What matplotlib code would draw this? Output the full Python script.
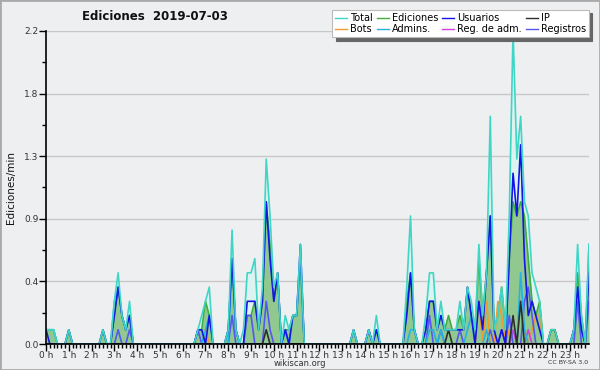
import matplotlib
matplotlib.use('Agg')
import matplotlib.pyplot as plt
from matplotlib.lines import Line2D
from matplotlib.patches import Rectangle
import numpy as np

# 10-minute bins (144 per day), values in edits/min
total = [
    0.1, 0.1, 0.1, 0, 0, 0,   0.1, 0, 0, 0, 0, 0,   0, 0, 0, 0.1, 0, 0,   0.3, 0.5, 0.2, 0.1, 0.3, 0,
    0, 0, 0, 0, 0, 0,   0, 0, 0, 0, 0, 0,   0, 0, 0, 0, 0.1, 0.2,   0.3, 0.4, 0, 0, 0, 0,
    0.1, 0.8, 0.1, 0, 0.1, 0.5,   0.5, 0.6, 0.1, 0.4, 1.3, 0.9,   0.4, 0.5, 0, 0.2, 0.1, 0.2,   0.2, 0.7, 0, 0, 0, 0,
    0, 0, 0, 0, 0, 0,   0, 0, 0, 0.1, 0, 0,   0, 0.1, 0, 0.2, 0, 0,   0, 0, 0, 0, 0, 0.4,
    0.9, 0.1, 0, 0, 0.2, 0.5,   0.5, 0.1, 0.3, 0.1, 0.1, 0.1,   0.1, 0.3, 0.1, 0.4, 0.3, 0.1,   0.7, 0.2, 0.5, 1.6, 0.1, 0.2,
    0.4, 0.1, 0.9, 2.2, 1.3, 1.6,   1.0, 0.9, 0.5, 0.4, 0.3, 0,   0, 0.1, 0.1, 0, 0, 0,   0, 0.1, 0.7, 0.2, 0, 0.7,
]
ediciones = [
    0.1, 0.1, 0.1, 0, 0, 0,   0.1, 0, 0, 0, 0, 0,   0, 0, 0, 0.1, 0, 0,   0.2, 0.4, 0.2, 0.1, 0.2, 0,
    0, 0, 0, 0, 0, 0,   0, 0, 0, 0, 0, 0,   0, 0, 0, 0, 0.1, 0.1,   0.3, 0.2, 0, 0, 0, 0,
    0.1, 0.6, 0.1, 0, 0, 0.2,   0.2, 0.3, 0.1, 0.3, 1.0, 0.7,   0.3, 0.5, 0, 0.1, 0.1, 0.2,   0.2, 0.6, 0, 0, 0, 0,
    0, 0, 0, 0, 0, 0,   0, 0, 0, 0.1, 0, 0,   0, 0.1, 0, 0.1, 0, 0,   0, 0, 0, 0, 0, 0.3,
    0.5, 0.1, 0, 0, 0.1, 0.3,   0.3, 0.1, 0.2, 0.1, 0.2, 0.1,   0.1, 0.2, 0.1, 0.4, 0.2, 0.1,   0.6, 0.2, 0.5, 0.9, 0.1, 0.2,
    0.4, 0.1, 0.6, 1.0, 0.9, 1.0,   0.9, 0.6, 0.3, 0.2, 0.3, 0,   0, 0.1, 0.1, 0, 0, 0,   0, 0.1, 0.5, 0.2, 0, 0.6,
]
usuarios = [
    0.1, 0, 0, 0, 0, 0,   0.1, 0, 0, 0, 0, 0,   0, 0, 0, 0.1, 0, 0,   0.2, 0.4, 0.2, 0.1, 0.2, 0,
    0, 0, 0, 0, 0, 0,   0, 0, 0, 0, 0, 0,   0, 0, 0, 0, 0.1, 0.1,   0, 0.2, 0, 0, 0, 0,
    0.1, 0.6, 0.1, 0, 0, 0.3,   0.3, 0.3, 0.1, 0.3, 1.0, 0.6,   0.3, 0.5, 0, 0.1, 0, 0.2,   0.2, 0.7, 0, 0, 0, 0,
    0, 0, 0, 0, 0, 0,   0, 0, 0, 0.1, 0, 0,   0, 0.1, 0, 0.1, 0, 0,   0, 0, 0, 0, 0, 0.2,
    0.5, 0.1, 0, 0, 0.1, 0.3,   0.3, 0.1, 0.2, 0.1, 0.1, 0.1,   0.1, 0.1, 0.1, 0.4, 0.2, 0,   0.3, 0.1, 0.5, 0.9, 0.1, 0,
    0.1, 0, 0.6, 1.2, 0.9, 1.4,   0.6, 0.2, 0.3, 0.2, 0.1, 0,   0, 0, 0, 0, 0, 0,   0, 0.1, 0.4, 0.1, 0, 0.5,
]
ip = [
    0, 0, 0, 0, 0, 0,   0, 0, 0, 0, 0, 0,   0, 0, 0, 0, 0, 0,   0, 0, 0, 0, 0, 0,
    0, 0, 0, 0, 0, 0,   0, 0, 0, 0, 0, 0,   0, 0, 0, 0, 0, 0,   0, 0, 0, 0, 0, 0,
    0, 0, 0, 0, 0, 0,   0, 0, 0, 0, 0.1, 0,   0, 0, 0, 0, 0, 0,   0, 0, 0, 0, 0, 0,
    0, 0, 0, 0, 0, 0,   0, 0, 0, 0, 0, 0,   0, 0, 0, 0, 0, 0,   0, 0, 0, 0, 0, 0,
    0, 0, 0, 0, 0, 0,   0, 0, 0, 0, 0.1, 0,   0, 0, 0, 0, 0, 0,   0, 0, 0, 0, 0, 0,
    0, 0, 0, 0.2, 0, 0.3,   0, 0, 0, 0, 0, 0,   0, 0.1, 0.1, 0, 0, 0,   0, 0, 0, 0, 0, 0,
]
bots = [
    0, 0, 0, 0, 0, 0,   0, 0, 0, 0, 0, 0,   0, 0, 0, 0, 0, 0,   0, 0, 0, 0, 0, 0,
    0, 0, 0, 0, 0, 0,   0, 0, 0, 0, 0, 0,   0, 0, 0, 0, 0, 0,   0.1, 0, 0, 0, 0, 0,
    0, 0, 0, 0, 0, 0,   0, 0, 0, 0, 0, 0,   0, 0, 0, 0, 0, 0,   0, 0, 0, 0, 0, 0,
    0, 0, 0, 0, 0, 0,   0, 0, 0, 0, 0, 0,   0, 0, 0, 0, 0, 0,   0, 0, 0, 0, 0, 0,
    0, 0, 0, 0, 0, 0,   0, 0, 0, 0, 0, 0,   0, 0, 0, 0, 0, 0,   0.3, 0, 0.3, 0, 0, 0.3,
    0.2, 0, 0.1, 0, 0, 0,   0, 0, 0.1, 0.2, 0.2, 0,   0, 0, 0, 0, 0, 0,   0, 0, 0, 0, 0, 0,
]
admins = [
    0.1, 0.1, 0.1, 0, 0, 0,   0, 0, 0, 0, 0, 0,   0, 0, 0, 0, 0, 0,   0.3, 0.4, 0.2, 0.1, 0.2, 0,
    0, 0, 0, 0, 0, 0,   0, 0, 0, 0, 0, 0,   0, 0, 0, 0, 0, 0,   0.1, 0.2, 0, 0, 0, 0,
    0, 0.6, 0.1, 0, 0, 0,   0, 0, 0, 0, 0, 0,   0, 0, 0, 0.1, 0, 0.2,   0.2, 0.6, 0, 0, 0, 0,
    0, 0, 0, 0, 0, 0,   0, 0, 0, 0, 0, 0,   0, 0, 0, 0.1, 0, 0,   0, 0, 0, 0, 0, 0,
    0.1, 0.1, 0, 0, 0, 0.1,   0.1, 0, 0.1, 0, 0, 0,   0, 0, 0, 0.1, 0.2, 0,   0, 0, 0.1, 0, 0, 0,
    0, 0, 0, 0, 0, 0.5,   0.1, 0, 0, 0, 0, 0,   0, 0, 0, 0, 0, 0,   0, 0.1, 0.4, 0.1, 0, 0.7,
]
reg_adm = [
    0, 0, 0, 0, 0, 0,   0, 0, 0, 0, 0, 0,   0, 0, 0, 0, 0, 0,   0, 0, 0, 0, 0, 0,
    0, 0, 0, 0, 0, 0,   0, 0, 0, 0, 0, 0,   0, 0, 0, 0, 0, 0,   0, 0, 0, 0, 0, 0,
    0, 0, 0, 0, 0, 0,   0, 0, 0, 0, 0, 0,   0, 0, 0, 0, 0, 0,   0, 0, 0, 0, 0, 0,
    0, 0, 0, 0, 0, 0,   0, 0, 0, 0, 0, 0,   0, 0, 0, 0, 0, 0,   0, 0, 0, 0, 0, 0,
    0, 0, 0, 0, 0, 0,   0, 0, 0, 0, 0, 0,   0, 0, 0, 0, 0, 0,   0, 0, 0, 0, 0, 0,
    0, 0, 0, 0.1, 0, 0,   0, 0.1, 0, 0, 0, 0,   0, 0, 0, 0, 0, 0,   0, 0, 0, 0, 0, 0,
]
registros = [
    0, 0, 0, 0, 0, 0,   0, 0, 0, 0, 0, 0,   0, 0, 0, 0, 0, 0,   0, 0.1, 0, 0, 0.1, 0,
    0, 0, 0, 0, 0, 0,   0, 0, 0, 0, 0, 0,   0, 0, 0, 0, 0.1, 0,   0, 0, 0, 0, 0, 0,
    0, 0.2, 0, 0, 0, 0.2,   0.2, 0, 0, 0, 0.3, 0.1,   0, 0, 0, 0.1, 0, 0,   0, 0, 0, 0, 0, 0,
    0, 0, 0, 0, 0, 0,   0, 0, 0, 0, 0, 0,   0, 0.1, 0, 0, 0, 0,   0, 0, 0, 0, 0, 0,
    0, 0, 0, 0, 0, 0.2,   0, 0, 0.1, 0, 0, 0,   0, 0.1, 0, 0, 0, 0,   0, 0, 0, 0.1, 0, 0,
    0.1, 0, 0.2, 0, 0, 0,   0.3, 0.4, 0.2, 0, 0, 0,   0, 0, 0, 0, 0, 0,   0, 0, 0.3, 0, 0, 0.3,
]

colors = {'Total': '#3fd6c6', 'Ediciones': '#3fae3f', 'Usuarios': '#1414e6', 'IP': '#2e2e2e',
          'Bots': '#f29a2e', 'Admins.': '#22b4e4', 'Reg. de adm.': '#d23ee0', 'Registros': '#5656f0'}
# legend fills column by column: two rows of four
legend_order = ['Total', 'Bots', 'Ediciones', 'Admins.', 'Usuarios', 'Reg. de adm.', 'IP', 'Registros']
hour_labels = [f'{h} h' for h in range(24)]

bg = '#eeeff1'
fig = plt.figure(figsize=(6, 3.7), dpi=100, facecolor=bg)
ax = fig.add_axes([46 / 600, 26 / 370, 543 / 600, 313 / 370], facecolor=bg)

x = np.arange(len(total)) / 6.0

# fills
ax.fill_between(x, total, color='#dcf3ef', lw=0, zorder=1)
ax.fill_between(x, ediciones, color='#90c890', lw=0, zorder=2)

# lines
series = {'Total': total, 'Ediciones': ediciones, 'Usuarios': usuarios, 'IP': ip, 'Bots': bots,
          'Admins.': admins, 'Reg. de adm.': reg_adm, 'Registros': registros}
draw_order = ['Ediciones', 'Bots', 'Reg. de adm.', 'Registros', 'Admins.', 'IP', 'Usuarios', 'Total']
for z, name in enumerate(draw_order):
    ax.plot(x, series[name], color=colors[name], lw=1.2, zorder=3 + z)

# axes styling
ax.set_xlim(0, x[-1])
ax.set_ylim(0, 2.2)
yt = np.linspace(0, 2.2, 6)
ax.set_yticks(yt)
ax.set_yticklabels([f'{v:.1f}' for v in yt])
ax.set_yticks(yt[:-1] + 0.22, minor=True)
ax.set_xticks(np.arange(24))
ax.set_xticklabels(hour_labels)
ax.set_xticks(np.arange(0, 143) / 6.0, minor=True)
ax.grid(axis='y', which='major', color='#c8c8c8', lw=1, zorder=0)
ax.set_axisbelow(True)
for s in ['top', 'right']:
    ax.spines[s].set_visible(False)
for s in ['left', 'bottom']:
    ax.spines[s].set_color('black')
    ax.spines[s].set_linewidth(1.2)
    ax.spines[s].set_zorder(20)
ax.tick_params(axis='both', which='major', length=5, width=1, labelsize=6.5, labelcolor='#333333', pad=0.5)
ax.tick_params(axis='x', which='major', pad=0)
ax.tick_params(axis='both', which='minor', length=3, width=1)
ax.set_ylabel('Ediciones/min', fontsize=7.5, labelpad=6, color='#111111')

fig.text(155 / 600, 1 - 17 / 370, 'Ediciones  2019-07-03', ha='center', va='center',
         fontsize=8.5, fontweight='bold', color='#111111')
fig.text(300 / 600, 1 - 364 / 370, 'wikiscan.org', ha='center', va='center', fontsize=6, color='#333333')
fig.text(588 / 600, 1 - 363 / 370, 'CC BY-SA 3.0', ha='right', va='center', fontsize=4.5, color='#333333')

handles = [Line2D([], [], color=colors[n], lw=1) for n in legend_order]
leg = fig.legend(handles, legend_order, ncol=4, loc='upper right', bbox_to_anchor=(589 / 600, 1 - 10 / 370),
                 fontsize=7, frameon=True, fancybox=False, handlelength=1.2, handletextpad=0.35,
                 columnspacing=0.4, labelspacing=0.15, borderpad=0.3, borderaxespad=0,
                 shadow={'color': '#666666', 'alpha': 1.0, 'ox': 2.5, 'oy': -2.5})
leg.get_frame().set_facecolor('white')
leg.get_frame().set_edgecolor('#bbbbbb')
leg.get_frame().set_linewidth(0.8)
leg.set_zorder(30)

fig.patches.append(Rectangle((0, 0), 1, 1, transform=fig.transFigure, fill=False,
                             edgecolor='#aaaaaa', lw=2))

fig.savefig('out.png', dpi=100, facecolor=bg)
